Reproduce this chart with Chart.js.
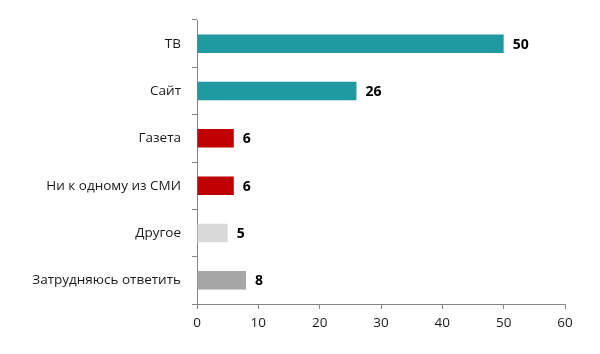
<!DOCTYPE html>
<html>
<head>
<meta charset="utf-8">
<script src="https://cdn.jsdelivr.net/npm/chart.js@4"></script>
<style>
  html, body { margin: 0; padding: 0; background: #fff; }
  #wrap { width: 600px; height: 354px; position: relative; }
</style>
</head>
<body>
<div id="wrap"><canvas id="mediaChart"></canvas></div>
<script>
const categories = ["ТВ", "Сайт", "Газета", "Ни к одному из СМИ", "Другое", "Затрудняюсь ответить"];
const values = [50, 26, 6, 6, 5, 8];
const barColors = ["#2199a1", "#2199a1", "#c00000", "#c00000", "#d9d9d9", "#a6a6a6"];
const xTicks = [0, 10, 20, 30, 40, 50, 60];

// Bold value next to every bar
const valueLabels = {
  id: "valueLabels",
  afterDatasetsDraw(chart) {
    const ctx = chart.ctx;
    const meta = chart.getDatasetMeta(0);
    ctx.save();
    ctx.font = "bold 14px 'Open Sans'";
    ctx.fillStyle = "#000";
    ctx.textAlign = "left";
    ctx.textBaseline = "middle";
    meta.data.forEach((bar, i) => {
      ctx.fillText(values[i], bar.x + 9, bar.y + 1);
    });
    ctx.restore();
  },
};

new Chart(document.getElementById("mediaChart").getContext("2d"), {
  type: "bar",
  data: {
    labels: categories,
    datasets: [
      {
        data: values,
        backgroundColor: barColors,
        borderWidth: 0,
        categoryPercentage: 1,
        barPercentage: 0.39,
      },
    ],
  },
  options: {
    indexAxis: "y",
    responsive: true,
    maintainAspectRatio: false,
    animation: false,
    layout: { padding: { top: 20, right: 35, left: 0, bottom: 0 } },
    plugins: {
      legend: { display: false },
      tooltip: { enabled: false },
    },
    scales: {
      x: {
        min: 0,
        max: 60,
        afterBuildTicks: (scale) => {
          scale.ticks = xTicks.map((v) => ({ value: v }));
        },
        afterFit: (scale) => {
          scale.height = 50;
        },
        border: { display: true, color: "#868686", width: 1 },
        grid: {
          drawOnChartArea: false,
          drawTicks: true,
          tickLength: 5,
          color: "#868686",
        },
        ticks: {
          color: "#1a1a1a",
          font: { family: "'Open Sans'", size: 13.5 },
          padding: 6,
        },
      },
      y: {
        afterFit: (scale) => {
          scale.width = 197;
        },
        border: { display: true, color: "#868686", width: 1 },
        grid: {
          offset: true,
          drawOnChartArea: false,
          drawTicks: true,
          tickLength: 5,
          color: "#868686",
        },
        ticks: {
          color: "#1a1a1a",
          font: { family: "'Open Sans'", size: 13.5 },
          padding: 11,
        },
      },
    },
  },
  plugins: [valueLabels],
});
</script>
</body>
</html>
